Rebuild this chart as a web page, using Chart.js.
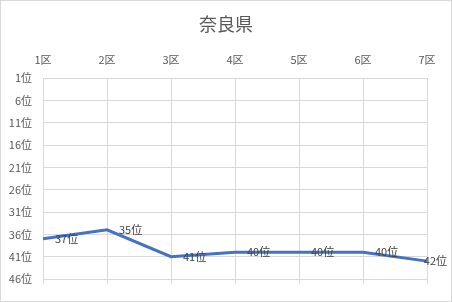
<!DOCTYPE html>
<html>
<head>
<meta charset="utf-8">
<script src="https://cdn.jsdelivr.net/npm/chart.js@4/dist/chart.umd.min.js"></script>
<style>
  body { margin: 0; background: #fff; }
  canvas { display: block; }
</style>
</head>
<body>
<canvas id="chart" width="452" height="302"></canvas>
<script>
// 奈良県 順位チャート

const chartTitle = "奈良県";
const districts = ["1区", "2区", "3区", "4区", "5区", "6区", "7区"];
const ranks = [37, 35, 41, 40, 40, 40, 42];
const rankTicks = [1, 6, 11, 16, 21, 26, 31, 36, 41, 46];

const FONT = '"Noto Sans CJK JP", "Noto Sans", sans-serif';
const GRID = "#d9d9d9";

// outer frame + title centred on the whole chart area (like Excel)
const framePlugin = {
  id: "frame",
  beforeDraw(chart) {
    const ctx = chart.ctx;
    ctx.save();
    ctx.fillStyle = "#fff";
    ctx.fillRect(0, 0, chart.width, chart.height);
    ctx.strokeStyle = GRID;
    ctx.lineWidth = 1;
    ctx.strokeRect(0.5, 0.5, chart.width - 1, chart.height - 1);
    ctx.font = "18px " + FONT;
    ctx.fillStyle = "#595959";
    ctx.textAlign = "center";
    ctx.textBaseline = "middle";
    ctx.fillText(chartTitle, chart.width / 2, 24);
    ctx.restore();
  },
  afterDraw(chart) {
    // short tick marks below the plot
    const ctx = chart.ctx;
    const x = chart.scales.x;
    const bottom = chart.chartArea.bottom;
    ctx.save();
    ctx.strokeStyle = GRID;
    ctx.lineWidth = 1;
    ctx.beginPath();
    x.ticks.forEach((t, i) => {
      const px = Math.round(x.getPixelForTick(i)) + 0.5;
      ctx.moveTo(px, bottom);
      ctx.lineTo(px, bottom + 5);
    });
    ctx.stroke();
    ctx.restore();
  }
};

// "37位" style labels to the right of each point
const rankLabels = {
  id: "rankLabels",
  afterDatasetsDraw(chart) {
    const ctx = chart.ctx;
    const meta = chart.getDatasetMeta(0);
    ctx.save();
    ctx.font = "11px " + FONT;
    ctx.fillStyle = "#404040";
    ctx.textBaseline = "middle";
    ctx.textAlign = "left";
    meta.data.forEach((pt, i) => {
      const txt = ranks[i] + "位";
      const w = ctx.measureText(txt).width;
      const x = Math.min(pt.x + 12, chart.width - 5 - w);
      ctx.fillText(txt, x, pt.y);
    });
    ctx.restore();
  }
};

new Chart(document.getElementById("chart"), {
  type: "line",
  data: {
    labels: districts,
    datasets: [{
      data: ranks,
      borderColor: "#4472C4",
      borderWidth: 3,
      pointRadius: 0,
      tension: 0,
      fill: false
    }]
  },
  options: {
    responsive: false,
    animation: false,
    layout: { padding: { left: 0, right: 25, top: 40.6, bottom: 23 } },
    plugins: {
      legend: { display: false },
      tooltip: { enabled: false },
      title: { display: false }
    },
    scales: {
      x: {
        position: "top",
        offset: false,
        grid: { color: GRID, drawTicks: false },
        border: { color: GRID },
        ticks: {
          color: "#595959",
          font: { family: FONT, size: 11 },
          padding: 12,
          maxRotation: 0
        },
        afterFit(scale) { scale.height = 37.4; }
      },
      y: {
        reverse: true,
        min: 1,
        max: 46,
        grid: { color: GRID, drawTicks: false },
        border: { color: GRID },
        ticks: {
          color: "#595959",
          font: { family: FONT, size: 11 },
          padding: 11,
          callback: v => v + "位"
        },
        afterBuildTicks(scale) {
          scale.ticks = rankTicks.map(v => ({ value: v }));
        },
        afterFit(scale) { scale.width = 43; }
      }
    }
  },
  plugins: [framePlugin, rankLabels]
});
</script>
</body>
</html>
